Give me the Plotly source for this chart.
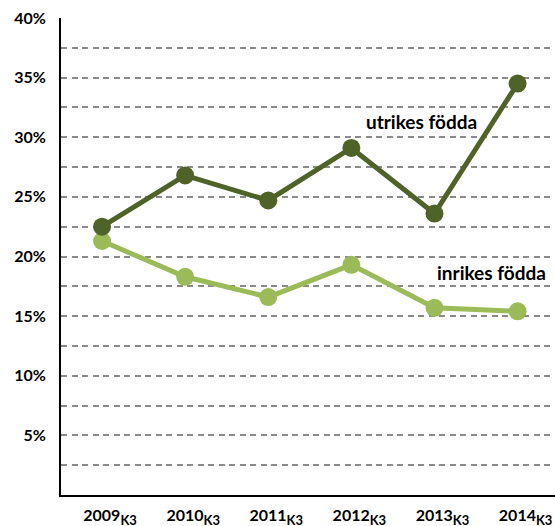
import plotly.graph_objects as go

categories = ["2009", "2010", "2011", "2012", "2013", "2014"]
tick_text_x = [c + "<sub><span style='font-size:13px;font-weight:bold'>K3</span></sub>" for c in categories]
utrikes = [22.5, 26.8, 24.7, 29.1, 23.6, 34.5]
inrikes = [21.3, 18.3, 16.6, 19.3, 15.7, 15.4]
y_tickvals = [2.5, 5, 7.5, 10, 12.5, 15, 17.5, 20, 22.5, 25, 27.5, 30, 32.5, 35, 37.5, 40]
y_ticktext = ["", "5%", "", "10%", "", "15%", "", "20%", "", "25%", "", "30%", "", "35%", "", "40%"]

FONT = "Lato"
dark = "#4F6228"
light = "#9BBB59"

fig = go.Figure()
fig.add_trace(go.Scatter(x=list(range(len(categories))), y=inrikes, mode="lines+markers",
                         line=dict(color=light, width=5), marker=dict(size=18, color=light),
                         name="inrikes födda"))
fig.add_trace(go.Scatter(x=list(range(len(categories))), y=utrikes, mode="lines+markers",
                         line=dict(color=dark, width=5), marker=dict(size=18, color=dark),
                         name="utrikes födda"))

fig.add_annotation(x=3.84, y=31.3, xref="x", yref="y", text="utrikes födda",
                   showarrow=False, font=dict(family=FONT, size=19, color="black", weight="bold"))
fig.add_annotation(x=4.69, y=18.7, xref="x", yref="y", text="inrikes födda",
                   showarrow=False, font=dict(family=FONT, size=19, color="black", weight="bold"))

fig.update_layout(
    width=555, height=526,
    margin=dict(l=61, r=0, t=18, b=31, autoexpand=False),
    paper_bgcolor="white", plot_bgcolor="white",
    showlegend=False,
    font=dict(family=FONT, size=15, color="black"),
    xaxis=dict(range=[-0.494, 5.45], tickvals=list(range(len(categories))), ticktext=tick_text_x,
               showgrid=False, zeroline=False, showline=True, linecolor="black", linewidth=2,
               ticks="", ticklabelstandoff=5, ticklabelshift=8, automargin=False,
               tickfont=dict(family=FONT, size=16, color="black", weight="bold")),
    yaxis=dict(range=[0, 40], tickvals=y_tickvals, ticktext=y_ticktext, automargin=False,
               showgrid=True, gridcolor="#8a8a8a", gridwidth=1.5, griddash="6px,4.5px",
               zeroline=False, showline=True, linecolor="black", linewidth=2,
               ticks="", ticklabelstandoff=10,
               tickfont=dict(family=FONT, size=16, color="black", weight="bold")),
)

fig.write_html("out.html", config={"displayModeBar": False},
               post_script="document.body.style.margin='0';document.body.style.overflow='hidden';")
